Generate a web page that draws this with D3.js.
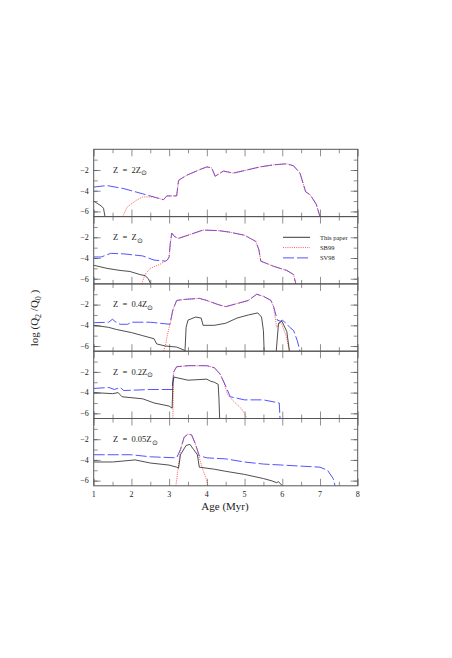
<!DOCTYPE html><html><head><script src="https://cdn.jsdelivr.net/npm/d3@7"></script>
<style>body{margin:0;background:#fff}text{font-family:"Liberation Serif",serif;fill:#222}</style></head><body><svg id="c" width="452" height="658"></svg><script>
const panelLabels=["2","","0.4","0.2","0.05"];
const xTicks=[1,2,3,4,5,6,7,8];
const yTicks=[-2,-4,-6];
const legendNames=["This paper","SB99","SV98"];
const sv98=[
[[1,-3.65],[1.35,-3.5],[1.8,-3.8],[2.3,-4.3],[2.85,-4.87],[2.94,-4.5],[3.2,-4.5],[3.25,-3.0],[3.47,-2.5],[3.82,-1.95],[4.0,-1.7],[4.13,-1.8],[4.22,-2.6],[4.44,-2.1],[4.57,-2.2],[4.7,-2.3],[5.06,-2.0],[5.41,-1.7],[5.77,-1.5],[6.12,-1.4],[6.3,-1.6],[6.47,-2.3],[6.62,-4.1],[6.74,-4.4],[6.9,-5.3],[7.0,-6.5]],
[[1,-3.9],[1.2,-3.9],[1.45,-3.55],[1.8,-3.6],[2.3,-3.8],[2.6,-4.2],[2.9,-4.3],[2.95,-4.2],[3.0,-3.9],[3.03,-2.6],[3.07,-1.6],[3.15,-1.95],[3.25,-2.1],[3.5,-1.8],[3.9,-1.3],[4.3,-1.35],[4.6,-1.5],[5.0,-1.8],[5.3,-2.4],[5.38,-3.2],[5.43,-4.3],[5.77,-4.8],[6.12,-5.2],[6.3,-5.6],[6.36,-6.5]],
[[1,-3.75],[1.4,-3.7],[1.5,-3.4],[1.55,-3.6],[1.7,-3.9],[1.9,-3.9],[2.0,-3.7],[2.5,-3.7],[3.02,-3.9],[3.1,-2.5],[3.2,-1.6],[3.4,-1.5],[3.8,-1.4],[4.0,-1.6],[4.3,-2.0],[4.5,-2.2],[4.8,-1.9],[5.1,-1.6],[5.32,-1.0],[5.5,-1.2],[5.7,-1.6],[5.77,-2.2],[5.87,-3.5],[5.95,-3.6],[6.0,-3.5],[6.1,-3.8],[6.2,-4.2],[6.3,-4.5],[6.4,-5.5],[6.47,-6.5]],
[[1,-3.6],[1.4,-3.5],[1.55,-3.7],[1.7,-3.5],[1.8,-3.8],[2.5,-3.7],[3.08,-3.7],[3.12,-2.0],[3.2,-1.5],[3.5,-1.4],[4.0,-1.4],[4.2,-1.6],[4.35,-2.2],[4.48,-3.2],[4.62,-4.4],[5.0,-4.7],[5.5,-4.7],[5.92,-5.0],[5.94,-6.5]],
[[1,-3.5],[2.0,-3.5],[2.5,-3.7],[3.2,-3.8],[3.3,-3.0],[3.4,-1.8],[3.5,-1.5],[3.6,-1.6],[3.7,-2.5],[3.8,-3.6],[4.0,-3.8],[4.5,-3.9],[5.0,-4.2],[5.5,-4.4],[6.0,-4.5],[6.5,-4.6],[7.0,-4.7],[7.2,-5.0],[7.35,-5.8],[7.4,-6.5]]];
const sb99=[
[[1.77,-6.5],[1.88,-5.6],[2.14,-4.9],[2.3,-4.6],[2.58,-4.6],[2.85,-4.87],[2.94,-4.5],[3.2,-4.5],[3.25,-3.0],[3.47,-2.5],[3.82,-1.95],[4.0,-1.7],[4.13,-1.8],[4.22,-2.6],[4.44,-2.1],[4.57,-2.2],[4.7,-2.3],[5.06,-2.0],[5.41,-1.7],[5.77,-1.5],[6.12,-1.4],[6.3,-1.6],[6.47,-2.3],[6.62,-4.1],[6.74,-4.4],[6.9,-5.3],[7.0,-6.5]],
[[2.27,-6.5],[2.36,-5.6],[2.5,-5.0],[2.76,-4.6],[2.95,-4.2],[3.0,-3.9],[3.03,-2.6],[3.07,-1.6],[3.15,-1.95],[3.25,-2.1],[3.5,-1.8],[3.9,-1.3],[4.3,-1.35],[4.6,-1.5],[5.0,-1.8],[5.3,-2.4],[5.38,-3.2],[5.43,-4.3],[5.77,-4.8],[6.12,-5.2],[6.3,-5.6],[6.36,-6.5]],
[[2.85,-6.5],[2.9,-6.0],[2.95,-5.0],[3.0,-4.2],[3.05,-3.5],[3.1,-2.5],[3.2,-1.6],[3.4,-1.5],[3.8,-1.4],[4.0,-1.6],[4.3,-2.0],[4.5,-2.2],[4.8,-1.9],[5.1,-1.6],[5.32,-1.0],[5.5,-1.2],[5.7,-1.6],[5.77,-2.2],[5.85,-4.2],[5.95,-3.7],[6.0,-4.0],[6.1,-5.0],[6.19,-6.5]],
[[3.1,-6.5],[3.12,-2.0],[3.2,-1.5],[3.5,-1.4],[4.0,-1.4],[4.2,-1.6],[4.35,-2.2],[4.45,-3.0],[4.55,-4.2],[4.7,-4.8],[4.9,-5.5],[5.0,-6.0],[5.06,-6.5]],
[[3.18,-6.5],[3.25,-4.5],[3.3,-3.0],[3.4,-1.8],[3.5,-1.5],[3.6,-1.6],[3.7,-2.5],[3.8,-3.8],[3.9,-5.0],[4.0,-6.0],[4.03,-6.5]]];
const thisPaper=[
[[[1,-5.0],[1.21,-5.5],[1.26,-5.7],[1.3,-6.5]]],
[[[1,-4.7],[1.35,-5.0],[1.7,-5.2],[1.96,-5.3],[2.23,-5.6],[2.36,-5.7],[2.45,-6.0],[2.51,-6.5]]],
[[[1,-4.0],[1.4,-4.2],[1.6,-4.4],[2.0,-4.7],[2.3,-5.0],[2.6,-5.3],[2.67,-5.8],[2.9,-6.0],[3.2,-6.1],[3.4,-6.4],[3.42,-6.5],[3.45,-4.2],[3.5,-3.5],[3.7,-3.2],[3.85,-3.3],[3.9,-4.0],[4.2,-4.0],[4.5,-3.8],[4.8,-3.3],[5.1,-3.0],[5.35,-2.8],[5.45,-3.2],[5.5,-4.5],[5.52,-6.5]],[[5.84,-6.5],[5.9,-3.8],[5.99,-3.6],[6.12,-4.6],[6.19,-6.5]]],
[[[1,-4.0],[1.5,-4.1],[1.65,-4.0],[1.75,-4.4],[2.3,-4.6],[2.6,-5.0],[3.0,-5.3],[3.08,-5.5],[3.1,-3.0],[3.13,-2.5],[3.5,-2.8],[4.0,-2.7],[4.1,-2.9],[4.2,-3.0],[4.3,-3.2],[4.32,-4.5],[4.34,-6.5]]],
[[[1,-4.2],[1.5,-4.2],[2.1,-4.0],[2.5,-4.3],[3.0,-4.5],[3.2,-4.7],[3.25,-4.8],[3.3,-3.5],[3.45,-2.6],[3.55,-2.5],[3.65,-3.0],[3.75,-3.5],[3.8,-4.7],[4.2,-4.9],[4.5,-5.1],[5.0,-5.4],[5.5,-5.8],[5.7,-6.0],[5.85,-6.2],[5.9,-6.1],[6.0,-6.5]]]];

const svg=d3.select("#c");
const L=93.7,R=357.7,T0=149.3,PH=67.3;
const x=d3.scaleLinear().domain([1,8]).range([L,R]);
const line=(y)=>d3.line().x(d=>x(d[0])).y(d=>y(d[1]));
for(let p=0;p<5;p++){
  const top=T0+p*PH, bot=top+PH;
  const y=d3.scaleLinear().domain([-6.5,0]).range([bot,top]);
  const g=svg.append("g");
  const clip="cl"+p;
  g.append("clipPath").attr("id",clip).append("rect").attr("x",L).attr("y",top).attr("width",R-L).attr("height",PH);
  const pg=g.append("g").attr("clip-path",`url(#${clip})`);
  pg.append("path").datum(sv98[p]).attr("d",line(y)).attr("fill","none").attr("stroke","#4040ff").attr("stroke-width",0.9).attr("stroke-dasharray","11,3");
  pg.append("path").datum(sb99[p]).attr("d",line(y)).attr("fill","none").attr("stroke","#ff4040").attr("stroke-width",0.9).attr("stroke-dasharray","1,1.2");
  thisPaper[p].forEach(s=>pg.append("path").datum(s).attr("d",line(y)).attr("fill","none").attr("stroke","#222").attr("stroke-width",0.8));
  const ax=(gen,tr)=>g.append("g").attr("transform",tr).call(gen).call(a=>{a.select(".domain").remove();a.selectAll("line").attr("stroke","#444").attr("stroke-width",0.6);});
  ax(d3.axisRight(y).tickValues(d3.range(-6,0,1)).tickSize(4).tickFormat(""),`translate(${L},0)`);
  ax(d3.axisLeft(y).tickValues(d3.range(-6,0,1)).tickSize(4).tickFormat(""),`translate(${R},0)`);
  ax(d3.axisRight(y).tickValues(yTicks).tickSize(7).tickFormat(""),`translate(${L},0)`);
  ax(d3.axisLeft(y).tickValues(yTicks).tickSize(7).tickFormat(""),`translate(${R},0)`);
  ax(d3.axisTop(x).tickValues(d3.range(1.5,8,1)).tickSize(4).tickFormat(""),`translate(0,${bot})`);
  ax(d3.axisBottom(x).tickValues(d3.range(1.5,8,1)).tickSize(4).tickFormat(""),`translate(0,${top})`);
  ax(d3.axisTop(x).tickValues(xTicks).tickSize(7).tickFormat(""),`translate(0,${bot})`);
  ax(d3.axisBottom(x).tickValues(xTicks).tickSize(7).tickFormat(""),`translate(0,${top})`);
  yTicks.forEach(v=>g.append("text").attr("x",L-5).attr("y",y(v)+2.8).attr("text-anchor","end").attr("font-size",8).text("\u2212"+(-v)));
  g.append("rect").attr("x",L).attr("y",top).attr("width",R-L).attr("height",PH).attr("fill","none").attr("stroke","#555").attr("stroke-width",1);
  const t=g.append("text").attr("x",113).attr("y",top+23.5).attr("font-size",8.5).attr("xml:space","preserve");
  t.append("tspan").text("Z  =  "+panelLabels[p]+"Z");
  t.append("tspan").attr("font-size",7).attr("dy",2.5).text("\u2299");
}
xTicks.forEach(v=>svg.append("text").attr("x",x(v)).attr("y",497).attr("text-anchor","middle").attr("font-size",8).text(v));
svg.append("text").attr("x",225).attr("y",510).attr("text-anchor","middle").attr("font-size",11).text("Age (Myr)");
const yl=svg.append("text").attr("transform","translate(38,318) rotate(-90)").attr("text-anchor","middle").attr("font-size",11);
yl.append("tspan").text("log (Q");yl.append("tspan").attr("font-size",8).attr("dy",3).text("2");
yl.append("tspan").attr("dy",-3).text(" /Q");yl.append("tspan").attr("font-size",8).attr("dy",3).text("0");
yl.append("tspan").attr("dy",-3).text(" )");
const lg=[{c:"#222",d:null},{c:"#ff4040",d:"1,1.2"},{c:"#4040ff",d:"11,3"}];
lg.forEach((s,i)=>{const yy=237.3+i*10.3;
 svg.append("line").attr("x1",283).attr("x2",310).attr("y1",yy).attr("y2",yy).attr("stroke",s.c).attr("stroke-width",0.9).attr("stroke-dasharray",s.d);
 svg.append("text").attr("x",320).attr("y",yy+2.5).attr("font-size",6.5).text(legendNames[i]);});
</script></body></html>
